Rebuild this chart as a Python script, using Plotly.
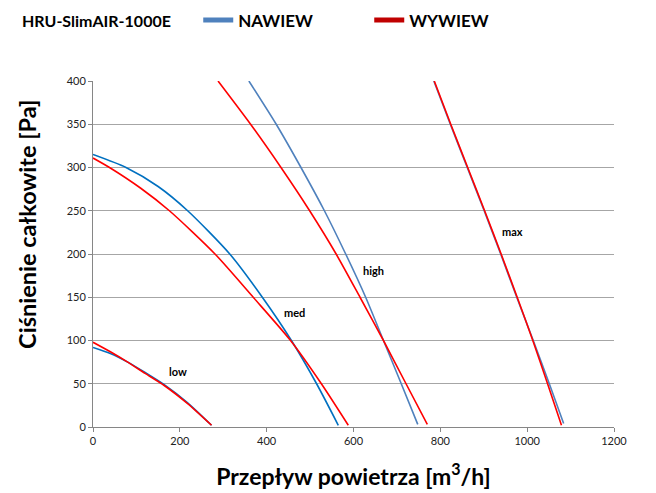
import plotly.graph_objects as go

# Wydajność [m3/h] vs ciśnienie całkowite [Pa], odczyt z wykresu
low_naw_x = [0, 40, 80, 120, 164, 218, 273]
low_naw_y = [92, 85, 75, 63, 49, 28, 2]
low_wyw_x = [0, 40, 80, 120, 164, 218, 273]
low_wyw_y = [98, 87, 75, 62, 48, 27, 2]

med_naw_x = [0, 76, 150, 218, 315, 390, 457, 515, 565]
med_naw_y = [315, 300, 278, 250, 200, 150, 100, 50, 2]
med_wyw_x = [0, 38, 110, 176, 281, 369, 455, 526, 588]
med_wyw_y = [311, 300, 276, 250, 200, 150, 100, 50, 2]

high_naw_x = [359, 422, 479, 533, 582, 628, 669, 710, 748]
high_naw_y = [400, 350, 300, 250, 200, 150, 100, 50, 3]
high_wyw_x = [288, 363, 433, 499, 560, 615, 669, 721, 770]
high_wyw_y = [400, 350, 300, 250, 200, 150, 100, 50, 3]

max_naw_x = [785, 823, 862, 901, 939, 976, 1014, 1051, 1084]
max_naw_y = [400, 350, 300, 250, 200, 150, 100, 50, 4]
max_wyw_x = [786, 824, 863, 902, 940, 977, 1013, 1047, 1079]
max_wyw_y = [400, 350, 300, 250, 200, 150, 100, 50, 2]

speed_labels = ['low', 'med', 'high', 'max']
label_x = [195, 465, 645, 966]
label_y = [64, 132, 181, 226]

FONT = 'Lato'
BLUE = '#0070C0'
BLUE2 = '#4F81BD'
RED = '#FF0000'

fig = go.Figure()

curves = [
    (low_naw_x, low_naw_y, BLUE), (low_wyw_x, low_wyw_y, RED),
    (med_naw_x, med_naw_y, BLUE), (med_wyw_x, med_wyw_y, RED),
    (high_naw_x, high_naw_y, BLUE2), (high_wyw_x, high_wyw_y, RED),
    (max_naw_x, max_naw_y, BLUE2), (max_wyw_x, max_wyw_y, RED),
]
for xs, ys, col in curves:
    fig.add_trace(go.Scatter(
        x=xs, y=ys, mode='lines', showlegend=False,
        line=dict(color=col, width=1.6, shape='spline', smoothing=0.7),
        hoverinfo='x+y'
    ))

# legend entries only
fig.add_trace(go.Scatter(x=[None], y=[None], mode='lines', name='NAWIEW',
                         line=dict(color=BLUE2, width=5)))
fig.add_trace(go.Scatter(x=[None], y=[None], mode='lines', name='WYWIEW',
                         line=dict(color='#C00000', width=5)))

for t, lx, ly in zip(speed_labels, label_x, label_y):
    fig.add_annotation(x=lx, y=ly, text='<b>%s</b>' % t, showarrow=False,
                       font=dict(family=FONT, size=11, color='black'))

# chart title (top left)
fig.add_annotation(x=-0.140, y=1.176, xref='paper', yref='paper', xanchor='left',
                   yanchor='middle', text='<b>HRU-SlimAIR-1000E</b>', showarrow=False,
                   font=dict(family=FONT, size=16, color='black'))

# y axis title, placed a bit above the plot centre like in the original
fig.add_annotation(x=-0.1267, y=0.587, xref='paper', yref='paper', xanchor='center',
                   yanchor='middle', textangle=-90, showarrow=False,
                   text='<b>Ciśnienie całkowite [Pa]</b>',
                   font=dict(family=FONT, size=23.5, color='black'))

fig.update_layout(
    width=656, height=493,
    margin=dict(l=85, r=50, t=73, b=74),
    plot_bgcolor='white', paper_bgcolor='white',
    font=dict(family=FONT, color='black'),
    showlegend=True,
    legend=dict(orientation='h', xref='container', yref='container',
                x=0.290, y=0.975, xanchor='left', yanchor='middle',
                font=dict(family=FONT, size=17, color='black', weight='bold'),
                entrywidth=126, entrywidthmode='pixels', itemwidth=30),
    xaxis=dict(range=[0, 1200], dtick=200, showgrid=False, zeroline=False,
               showline=True, linecolor='#868686', linewidth=1, automargin=False,
               ticks='outside', ticklen=4, tickcolor='#868686',
               tickfont=dict(family=FONT, size=11, color='#222'),
               title=dict(text='<b>Przepływ powietrza [m<sup>3</sup>/h]</b>',
                          font=dict(family=FONT, size=23, color='black'), standoff=22)),
    yaxis=dict(range=[0, 400], dtick=50, showgrid=True, gridcolor='#A6A6A6', gridwidth=1,
               zeroline=False, showline=True, linecolor='#868686', linewidth=1,
               automargin=False,
               ticks='outside', ticklen=4, tickcolor='#868686',
               tickfont=dict(family=FONT, size=11, color='#222')),
)

fig.write_html('out.html')
